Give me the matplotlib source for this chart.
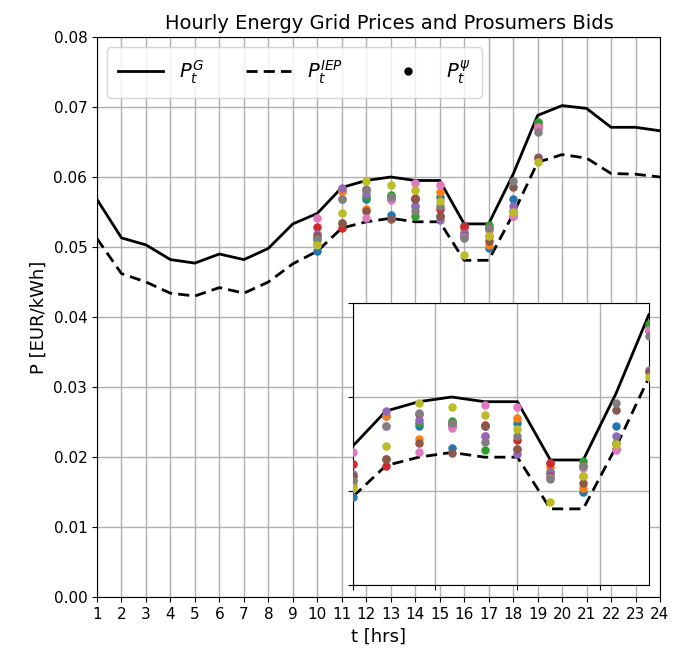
import matplotlib
matplotlib.use('Agg')
import matplotlib.pyplot as plt
from matplotlib.lines import Line2D
import numpy as np

hours = np.arange(1, 25)

# grid price P_t^G
p_grid = [0.0568, 0.0513, 0.0503, 0.0482, 0.0477, 0.0490, 0.0482, 0.0498, 0.0533, 0.0548,
          0.0585, 0.0595, 0.0600, 0.0595, 0.0595, 0.0533, 0.0533, 0.0604, 0.0688, 0.0702,
          0.0698, 0.0671, 0.0671, 0.0666]
# IEP price P_t^IEP
p_iep = [0.0512, 0.0462, 0.0450, 0.0434, 0.0430, 0.0442, 0.0434, 0.0450, 0.0476, 0.0494,
         0.0527, 0.0536, 0.0541, 0.0536, 0.0536, 0.0481, 0.0481, 0.0547, 0.0621, 0.0632,
         0.0627, 0.0605, 0.0604, 0.0600]

# prosumer bids, hours 10..19
bid_hours = np.arange(10, 20)
bids = [
    [0.0494, 0.0580, 0.0569, 0.0546, 0.0569, 0.0572, 0.0530, 0.0499, 0.0569, 0.0676],
    [0.0505, 0.0580, 0.0555, 0.0573, 0.0558, 0.0578, 0.0526, 0.0503, 0.0550, 0.0674],
    [0.0512, 0.0534, 0.0572, 0.0575, 0.0544, 0.0545, 0.0520, 0.0532, 0.0551, 0.0678],
    [0.0529, 0.0527, 0.0582, 0.0570, 0.0570, 0.0554, 0.0530, 0.0527, 0.0545, 0.0670],
    [0.0518, 0.0585, 0.0576, 0.0568, 0.0558, 0.0539, 0.0520, 0.0516, 0.0559, 0.0629],
    [0.0516, 0.0534, 0.0551, 0.0540, 0.0569, 0.0545, 0.0516, 0.0509, 0.0586, 0.0627],
    [0.0541, 0.0569, 0.0541, 0.0567, 0.0592, 0.0589, 0.0514, 0.0524, 0.0544, 0.0671],
    [0.0511, 0.0569, 0.0583, 0.0572, 0.0552, 0.0558, 0.0513, 0.0527, 0.0594, 0.0665],
    [0.0503, 0.0548, 0.0594, 0.0589, 0.0581, 0.0566, 0.0488, 0.0516, 0.0550, 0.0621],
]

fig = plt.figure(figsize=(6.91, 6.60), dpi=100)
ax = fig.add_axes([97/691, 63/660, 563/691, 560/660])


def draw(a):
    a.plot(hours, p_grid, color='k', linewidth=2, linestyle='-')
    a.plot(hours, p_iep, color='k', linewidth=2, linestyle='--', dashes=(4, 2.2))
    for i, b in enumerate(bids):
        a.scatter(bid_hours, b, s=26, color='C%d' % i, zorder=3)
    a.grid(color='#b0b0b0', linewidth=1)
    a.set_axisbelow(True)


draw(ax)
ax.set_xlim(1, 24)
ax.set_ylim(0, 0.08)
ax.set_xticks(hours)
ax.set_yticks(np.arange(0, 0.081, 0.01))
ax.tick_params(labelsize=11)
ax.set_xlabel('t [hrs]', fontsize=13)
ax.set_ylabel('P [EUR/kWh]', fontsize=13)
ax.set_title('Hourly Energy Grid Prices and Prosumers Bids', fontsize=14, x=0.52)

handles = [Line2D([], [], color='k', linewidth=2, linestyle='-'),
           Line2D([], [], color='k', linewidth=2, linestyle='--', dashes=(4, 2.2)),
           Line2D([], [], color='k', marker='o', markersize=5, linestyle='None')]
ax.legend(handles, [r'$P_t^G$', r'$P_t^{IEP}$', r'$P_t^{\psi}$'],
          loc='upper left', ncol=3, fontsize=14, handlelength=2.3,
          columnspacing=2.2, borderpad=0.6)

ins = fig.add_axes([353/691, 75/660, 296/691, 282/660])
draw(ins)
ins.set_xlim(10, 19)
ins.set_ylim(0.04, 0.07)
ins.set_xticks([10, 12.5, 15, 17.5])
ins.set_yticks([0.04, 0.05, 0.06, 0.07])
ins.set_xticklabels([])
ins.set_yticklabels([])

fig.savefig('out.png', dpi=100)
